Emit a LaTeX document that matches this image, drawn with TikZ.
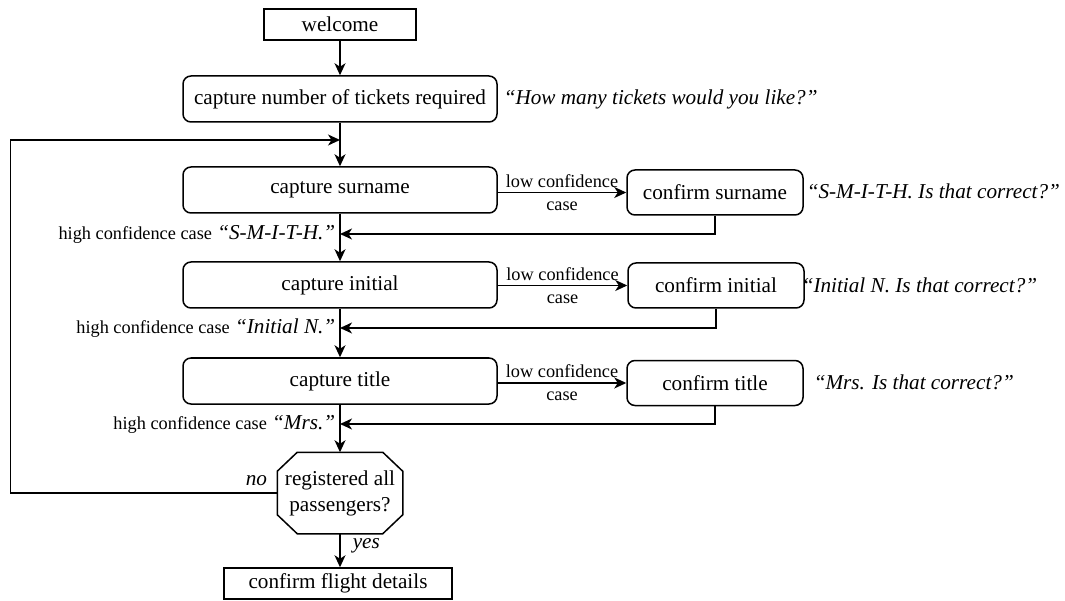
\documentclass[tikz,border=0pt]{standalone}
\usepackage{fontspec}
\setmainfont{Liberation Serif}
\usetikzlibrary{arrows.meta,calc}
\newcommand\lgfont{\fontsize{21.2}{26}\selectfont}
\newcommand\smfont{\fontsize{18.3}{23}\selectfont}
\begin{document}
\begin{tikzpicture}[x=1pt,y=-1pt,
  line width=1.5pt,
  >={Stealth[length=12pt,width=11pt,inset=3.5pt]},
  box/.style={draw, rounded corners=8pt, minimum width=314pt, minimum height=46pt, inner sep=0pt, font=\lgfont},
  cbox/.style={draw, rounded corners=8pt, minimum width=176pt, minimum height=45pt, inner sep=0pt, font=\lgfont},
  sbox/.style={draw, minimum height=31pt, inner sep=0pt, font=\lgfont},
  quote/.style={anchor=west, inner sep=0pt, font=\lgfont\itshape},
  lab/.style={inner sep=0pt, font=\smfont, align=center},
  hlab/.style={anchor=east, inner sep=0pt, font=\lgfont, xshift=-4pt},
  ilab/.style={inner sep=0pt, font=\lgfont\itshape},
]
\useasboundingbox (0,0) rectangle (1065,601);

% main column
\node[sbox, minimum width=152pt] (welcome) at (340,24.5) {welcome};
\node[box] (tickets) at (340,99) {capture number of tickets required};
\node[quote] (qtickets) at (503,99) {“How many tickets would you like?”};
\node[box] (surname) at (340,190) {capture surname};
\node[box] (initial) at (340,285) {capture initial};
\node[box] (title) at (340,381) {capture title};

% confirm column
\node[cbox] (csurname) at (715,192.5) {confirm surname};
\node[cbox] (cinitial) at (716,285.5) {confirm initial};
\node[cbox] (ctitle) at (715,383) {confirm title};
\node[quote] (qsurname) at (806,191) {“S-M-I-T-H. Is that correct?”};
\node[quote] (qinitial) at (801,285) {“Initial N. Is that correct?”};
\node[quote] (qtitle) at (813,382) {“Mrs. Is that correct?”};

% decision
\node[inner sep=0pt, minimum width=124pt, minimum height=80pt, align=center, font=\lgfont] (check) at (340,493) {registered all\\passengers?};
\draw ($(check.north west)+(20,0)$) -- ($(check.north east)+(-20,0)$)
  -- ($(check.north east)+(0,19)$) -- ($(check.south east)+(0,-19)$)
  -- ($(check.south east)+(-20,0)$) -- ($(check.south west)+(20,0)$)
  -- ($(check.south west)+(0,-19)$) -- ($(check.north west)+(0,19)$) -- cycle;

\node[sbox, minimum width=228pt] (flight) at (338,583.5) {confirm flight details};

% coordinates
\coordinate (r1) at (340,234);
\coordinate (r2) at (340,328);
\coordinate (r3) at (340,424);
\coordinate (lb) at (10.5,493);
\coordinate (lt) at (10.5,140);

% main flow
\draw[->] (welcome) -- (tickets);
\draw[->] (tickets) -- (surname);
\draw[->] (surname) -- (initial);
\draw[->] (initial) -- (title);
\draw[->] (title) -- (check.north);
\draw[->] (check.south) -- (check.south |- flight.north)
  node[pos=0.35, right=12pt, ilab] {yes};

% loop back
\draw[->] (check.west) -- (lb) node[pos=0.078, above=7pt, ilab] {no}
  -- (lt) -- (tickets.south |- lt);

% low confidence branches
\draw[->] (surname.east |- csurname.west) -- (csurname.west)
  node[midway, lab] {low confidence\\case};
\draw[->] (initial.east |- cinitial.west) -- (cinitial.west)
  node[midway, lab] {low confidence\\case};
\draw[->] (title.east |- ctitle.west) -- (ctitle.west)
  node[midway, lab] {low confidence\\case};

% returns
\draw[->] (csurname.south) |- (r1)
  node[hlab] {{\smfont high confidence case} {\itshape “S-M-I-T-H.”}};
\draw[->] (cinitial.south) |- (r2)
  node[hlab] {{\smfont high confidence case} {\itshape “Initial N.”}};
\draw[->] (ctitle.south) |- (r3)
  node[hlab] {{\smfont high confidence case} {\itshape “Mrs.”}};
\end{tikzpicture}
\end{document}
